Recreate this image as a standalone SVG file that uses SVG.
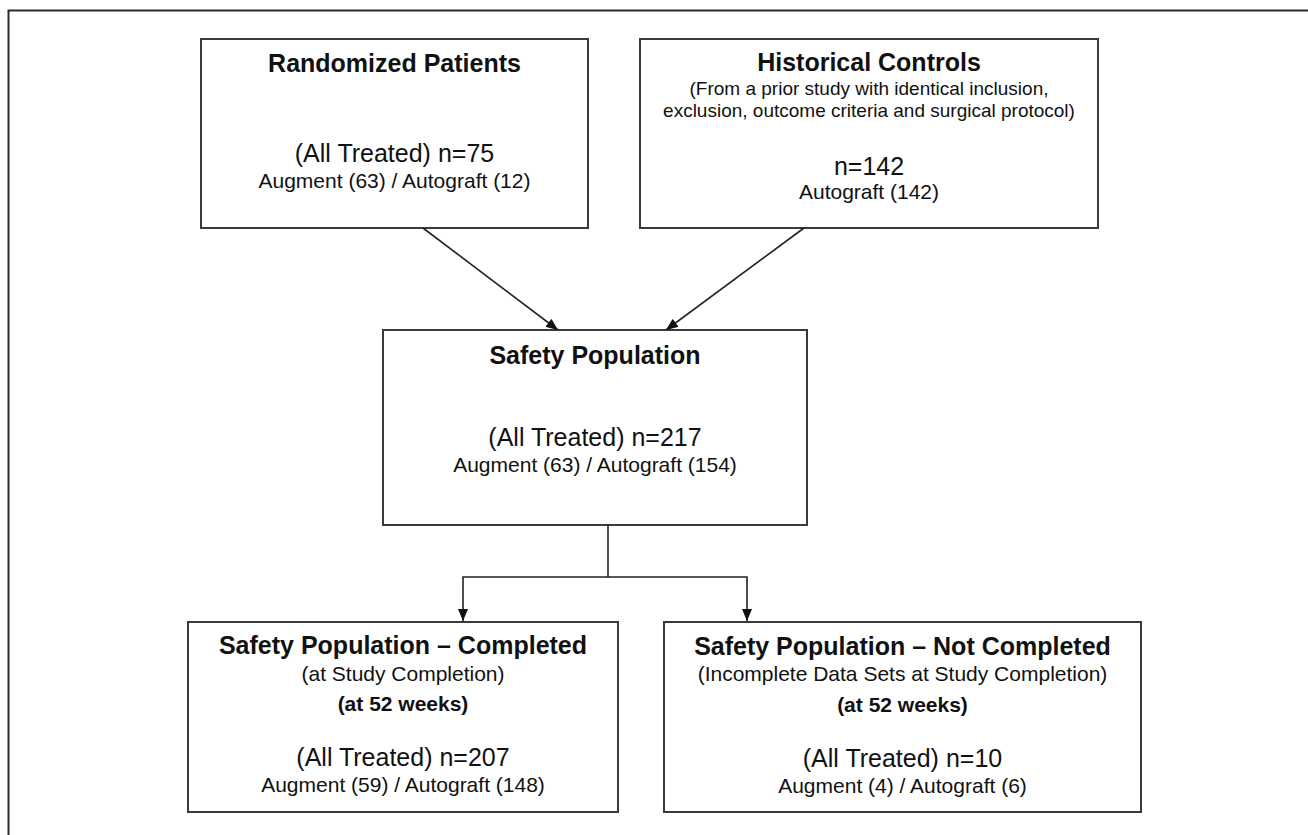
<svg xmlns="http://www.w3.org/2000/svg" width="1308" height="835" viewBox="0 0 1308 835">
<style>
.box{fill:#fff;stroke:#3a3a3a;stroke-width:2}
.t{font-family:"Liberation Sans",Arial,sans-serif;fill:#111;text-anchor:middle}
.h{font-size:25px;font-weight:bold}
.b{font-size:25px}
.s{font-size:21px}
.m{font-size:19px}
.sb{font-size:21px;font-weight:bold}
.ln{fill:none;stroke:#222;stroke-width:1.6}
</style>
<defs>
<marker id="ah" viewBox="0 0 12 10" refX="12" refY="5" markerWidth="12" markerHeight="10" markerUnits="userSpaceOnUse" orient="auto">
<path d="M0,0 L12,5 L0,10 z" fill="#111"/>
</marker>
</defs>
<rect width="1308" height="835" fill="#fff"/>
<path d="M8.5,840 V10.5 H1315" fill="none" stroke="#2a2a2a" stroke-width="2"/>

<g id="randomized">
<rect class="box" x="201" y="39" width="387" height="189"/>
<text class="t h" x="394.5" y="72">Randomized Patients</text>
<text class="t b" x="394.5" y="162">(All Treated) n=75</text>
<text class="t s" x="394.5" y="188">Augment (63) / Autograft (12)</text>
</g>

<g id="historical">
<rect class="box" x="640" y="39" width="458" height="189"/>
<text class="t h" x="869" y="71">Historical Controls</text>
<text class="t m" x="869" y="95">(From a prior study with identical inclusion,</text>
<text class="t m" x="869" y="117">exclusion, outcome criteria and surgical protocol)</text>
<text class="t b" x="869" y="175">n=142</text>
<text class="t s" x="869" y="199">Autograft (142)</text>
</g>

<g id="safety">
<rect class="box" x="383" y="330" width="424" height="195"/>
<text class="t h" x="595" y="364">Safety Population</text>
<text class="t b" x="595" y="446">(All Treated) n=217</text>
<text class="t s" x="595" y="472">Augment (63) / Autograft (154)</text>
</g>

<g id="completed">
<rect class="box" x="188" y="622" width="430" height="190"/>
<text class="t h" x="403" y="654">Safety Population – Completed</text>
<text class="t s" x="403" y="681">(at Study Completion)</text>
<text class="t sb" x="403" y="711">(at 52 weeks)</text>
<text class="t b" x="403" y="766">(All Treated) n=207</text>
<text class="t s" x="403" y="792">Augment (59) / Autograft (148)</text>
</g>

<g id="notcompleted">
<rect class="box" x="664" y="622" width="477" height="190"/>
<text class="t h" x="902.5" y="655">Safety Population – Not Completed</text>
<text class="t s" x="902.5" y="681">(Incomplete Data Sets at Study Completion)</text>
<text class="t sb" x="902.5" y="712">(at 52 weeks)</text>
<text class="t b" x="902.5" y="767">(All Treated) n=10</text>
<text class="t s" x="902.5" y="793">Augment (4) / Autograft (6)</text>
</g>

<g id="connectors">
<line class="ln" x1="423" y1="228" x2="558" y2="330" marker-end="url(#ah)"/>
<line class="ln" x1="804" y1="228" x2="666" y2="330" marker-end="url(#ah)"/>
<path class="ln" d="M608,525 V577"/>
<path class="ln" d="M608,577 H463 V621" marker-end="url(#ah)"/>
<path class="ln" d="M608,577 H747 V621" marker-end="url(#ah)"/>
</g>
</svg>
